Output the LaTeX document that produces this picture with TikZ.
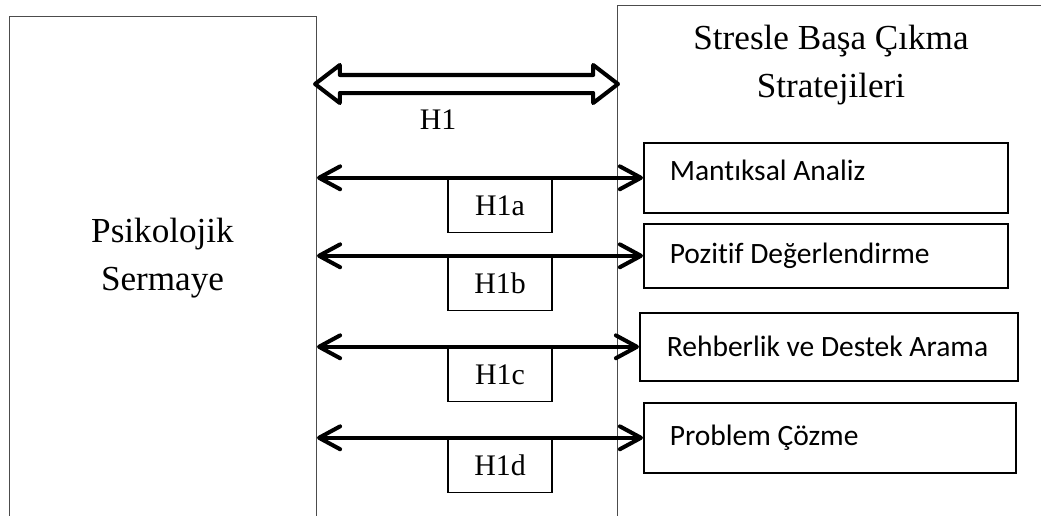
\documentclass[tikz,border=0pt]{standalone}
\usepackage{fontspec}
\setmainfont{Liberation Serif}
\newfontfamily\calibrifont[Ligatures=NoCommon]{Carlito}
\usetikzlibrary{
  arrows.meta,
  shapes.arrows,
  positioning,
  calc
}
% left-set strategy name in a box of fixed width
\newcommand{\stratname}[2]{\makebox[#1][l]{#2}}
\tikzset{
  bigbox/.style={draw=black!70, line width=0.6pt, inner sep=0pt, anchor=north west},
  maintext/.style={font=\fontsize{20}{27}\selectfont, align=center, inner sep=0pt},
  strategy/.style={
    draw, line width=0.9pt, anchor=north west, inner ysep=0pt, inner xsep=0.52cm,
    font=\calibrifont\fontsize{16.8}{19}\selectfont
  },
  hlabel/.style={
    draw, line width=0.7pt, minimum width=2.08cm, minimum height=1.08cm,
    anchor=north, inner sep=0pt, font=\fontsize{17}{20}\selectfont
  },
  hollowarrow/.style={
    double arrow, draw, line width=2.3pt, line join=round, inner sep=0pt,
    inner ysep=0.14cm, minimum height=6.06cm, minimum width=0.68cm,
    double arrow head extend=0.2cm, double arrow tip angle=75
  },
  link/.style={
    line width=2.3pt,
    {Straight Barb[length=12pt, width=13pt, round]}-{Straight Barb[length=12pt, width=13pt, round]}
  }
}

\begin{document}
\begin{tikzpicture}[x=0.02cm, y=-0.02cm]
  \clip (0,0) rectangle (1041,515);
  % two main blocks
  \node[bigbox, minimum width=6.14cm, minimum height=11.7cm] (psy) at (9,16) {};
  \node[bigbox, minimum width=10cm, minimum height=12cm] (strat) at (617,5) {};
  \node[maintext] (psytext) at (162.5,258) {Psikolojik\\Sermaye};
  \node[maintext] (strattitle) at (831,65) {Stresle Başa Çıkma\\Stratejileri};

  % sub-dimensions
  \node[strategy, minimum height=1.4cm, text depth=0.3cm] (manti) at (643,142) {\stratname{6.24cm}{Mantıksal Analiz}};
  \node[strategy, minimum height=1.28cm] (pozit) at (643,223) {\stratname{6.24cm}{Pozitif Değerlendirme}};
  \node[strategy, minimum height=1.36cm, inner xsep=0.54cm] (rehber) at (639,312) {\stratname{6.48cm}{Rehberlik ve Destek Arama}};
  \node[strategy, minimum height=1.4cm] (probl) at (643,402) {\stratname{6.40cm}{Problem Çözme}};

  % hypotheses
  \node[hollowarrow] (h1arr) at (466.5,84) {};
  \node[font=\fontsize{17}{20}\selectfont, inner sep=0pt] (h1) at (438,120) {H1};
  \draw[link] (psy.east |- manti.west) -- (manti.west);
  \draw[link] (psy.east |- pozit.west) -- (pozit.west);
  \draw[link] (psy.east |- rehber.west) -- (rehber.west);
  \draw[link] (psy.east |- probl.west) -- (probl.west);
  \node[hlabel] (h1a) at (500,0 |- manti.west) {H1a};
  \node[hlabel] (h1b) at (500,0 |- pozit.west) {H1b};
  \node[hlabel] (h1c) at (500,0 |- rehber.west) {H1c};
  \node[hlabel] (h1d) at (500,0 |- probl.west) {H1d};
\end{tikzpicture}
\end{document}
